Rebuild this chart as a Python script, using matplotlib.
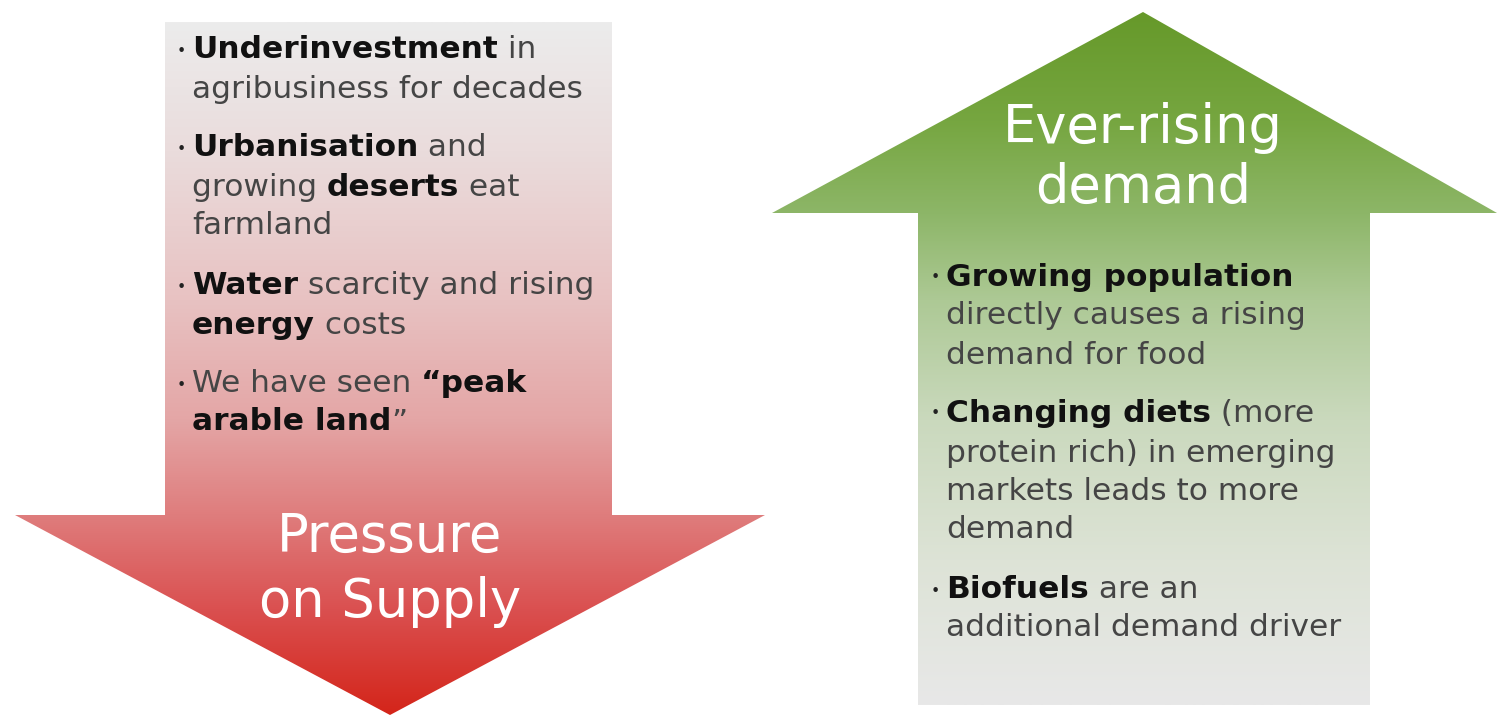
import matplotlib

matplotlib.use("Agg")
import matplotlib.pyplot as plt
import numpy as np
from matplotlib.colors import LinearSegmentedColormap
from matplotlib.patches import Polygon

W, H = 1499, 717

# arrow outlines (pixel coords, y downwards)
supply_outline = [(165, 22), (612, 22), (612, 515), (765, 515), (390, 715), (15, 515), (165, 515)]
demand_outline = [(1143, 12), (1497, 213), (1370, 213), (1370, 705), (918, 705), (918, 213), (772, 213)]

# gradient stops: (y, colour)
supply_stops = [(22, "#ececec"), (150, "#eadcdc"), (300, "#e8c2c2"), (420, "#e4a6a6"),
                (515, "#df7d7d"), (610, "#da5050"), (715, "#d4251a")]
demand_stops = [(12, "#66992a"), (120, "#76a640"), (213, "#8db668"), (300, "#adc995"),
                (420, "#cad9bd"), (560, "#dde3d6"), (705, "#e8e8e8")]

supply_title = ["Pressure", "on Supply"]
supply_title_y = [537, 602]
demand_title = ["Ever-rising", "demand"]
demand_title_y = [128, 188]

# bullet lines: (y, [(text, bold), ...], starts_bullet)
supply_lines = [
    (50, [("Underinvestment", True), (" in", False)], True),
    (89, [("agribusiness for decades", False)], False),
    (148, [("Urbanisation", True), (" and", False)], True),
    (187, [("growing ", False), ("deserts", True), (" eat", False)], False),
    (226, [("farmland", False)], False),
    (286, [("Water", True), (" scarcity and rising", False)], True),
    (325, [("energy", True), (" costs", False)], False),
    (384, [("We have seen ", False), ("\u201cpeak", True)], True),
    (422, [("arable land", True), ("\u201d", False)], False),
]
demand_lines = [
    (277, [("Growing population", True)], True),
    (316, [("directly causes a rising", False)], False),
    (355, [("demand for food", False)], False),
    (413, [("Changing diets", True), (" (more", False)], True),
    (453, [("protein rich) in emerging", False)], False),
    (492, [("markets leads to more", False)], False),
    (530, [("demand", False)], False),
    (590, [("Biofuels", True), (" are an", False)], True),
    (628, [("additional demand driver", False)], False),
]


def gradient_arrow(ax, outline, stops):
    xs = [p[0] for p in outline]
    ys = [p[1] for p in outline]
    y0, y1 = min(ys), max(ys)
    pos = [(y - y0) / (y1 - y0) for y, _ in stops]
    cmap = LinearSegmentedColormap.from_list("g", list(zip(pos, [c for _, c in stops])))
    grad = np.linspace(0, 1, 256).reshape(-1, 1)
    im = ax.imshow(grad, cmap=cmap, aspect="auto", extent=(min(xs), max(xs), y1, y0),
                   interpolation="bilinear", zorder=1)
    patch = Polygon(outline, closed=True, facecolor="none", edgecolor="none")
    ax.add_patch(patch)
    im.set_clip_path(patch)


def draw_lines(ax, renderer, lines, bullet_x, text_x, size):
    for y, runs, bullet in lines:
        if bullet:
            ax.text(bullet_x, y + 1, "\u2022", fontsize=size * 0.5, color="#222222",
                    ha="left", va="center", zorder=3)
        x = text_x
        for s, bold in runs:
            t = ax.text(x, y, s, fontsize=size, fontweight="bold" if bold else "normal",
                        color="#111111" if bold else "#454545", ha="left", va="center", zorder=3)
            x += t.get_window_extent(renderer).width


fig = plt.figure(figsize=(W / 100, H / 100), dpi=100)
ax = fig.add_axes([0, 0, 1, 1])
ax.set_xlim(0, W)
ax.set_ylim(H, 0)
ax.axis("off")

gradient_arrow(ax, supply_outline, supply_stops)
gradient_arrow(ax, demand_outline, demand_stops)

for s, y in zip(supply_title, supply_title_y):
    ax.text(390, y, s, fontsize=38, color="white", ha="center", va="center", zorder=3)
for s, y in zip(demand_title, demand_title_y):
    ax.text(1143, y, s, fontsize=38, color="white", ha="center", va="center", zorder=3)

fig.canvas.draw()
renderer = fig.canvas.get_renderer()
draw_lines(ax, renderer, supply_lines, 177, 192, 22.5)
draw_lines(ax, renderer, demand_lines, 931, 946, 22.5)

fig.savefig("out.png", dpi=100, facecolor="white")
